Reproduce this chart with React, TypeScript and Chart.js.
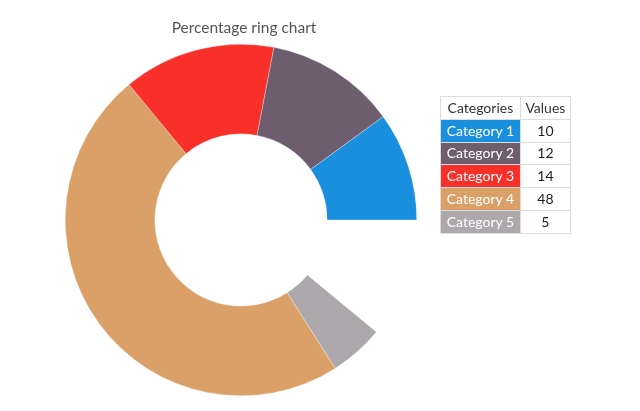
import React, { useEffect, useRef } from "react";
import { Chart, registerables } from "chart.js";

Chart.register(...registerables);

const title = "Percentage ring chart";
const categories = ["Category 1", "Category 2", "Category 3", "Category 4", "Category 5"];
const values = [10, 12, 14, 48, 5];
const colors = ["#1a8fdd", "#6e5c6f", "#f9302a", "#daa068", "#aca8ac"];
const headers = ["Categories", "Values"];

const FONT = "Lato, 'Liberation Sans', sans-serif";

export default function App() {
  const ref = useRef<HTMLCanvasElement | null>(null);

  useEffect(() => {
    if (!ref.current) return;
    const total = values.reduce((a, b) => a + b, 0);
    const circumference = (total / 100) * 360;
    // draw counter-clockwise from east: reverse data, end at east (90deg)
    const chart = new Chart(ref.current, {
      type: "doughnut",
      data: {
        labels: [...categories].reverse(),
        datasets: [
          {
            data: [...values].reverse(),
            backgroundColor: [...colors].reverse(),
            borderColor: "rgba(255,255,255,0.6)",
            borderWidth: 0.5,
          },
        ],
      },
      options: {
        animation: false,
        responsive: false,
        maintainAspectRatio: false,
        cutout: "49%",
        rotation: 90 - circumference,
        circumference,
        layout: { padding: { left: 65, top: 44, right: 223, bottom: 15 } },
        plugins: {
          legend: { display: false },
          title: { display: false },
          tooltip: { enabled: false },
        },
      },
    });
    return () => chart.destroy();
  }, []);

  const cell: React.CSSProperties = {
    border: "1px solid #dcdcdc",
    height: 21.8,
    padding: 0,
    textAlign: "center",
    fontSize: 14,
    lineHeight: "20px",
  };

  return (
    <div style={{ position: "fixed", left: 0, top: 0, width: 640, height: 411, background: "#fff", fontFamily: FONT }}>
      <canvas ref={ref} width={640} height={411} style={{ position: "absolute", left: 0, top: 0, width: 640, height: 411 }} />
      <div
        style={{
          position: "absolute",
          left: 0,
          width: 488,
          top: 17,
          textAlign: "center",
          fontSize: 15.5,
          color: "#555",
          lineHeight: "20px",
        }}
      >
        {title}
      </div>
      <table
        style={{
          position: "absolute",
          left: 440,
          top: 96,
          borderCollapse: "collapse",
          width: 131,
          fontFamily: FONT,
        }}
      >
        <tbody>
          <tr>
            <td style={{ ...cell, width: 80, color: "#333" }}>{headers[0]}</td>
            <td style={{ ...cell, width: 50, color: "#333" }}>{headers[1]}</td>
          </tr>
          {categories.map((c, i) => (
            <tr key={c}>
              <td style={{ ...cell, background: colors[i], color: "#fff" }}>{c}</td>
              <td style={{ ...cell, color: "#222" }}>{values[i]}</td>
            </tr>
          ))}
        </tbody>
      </table>
    </div>
  );
}
